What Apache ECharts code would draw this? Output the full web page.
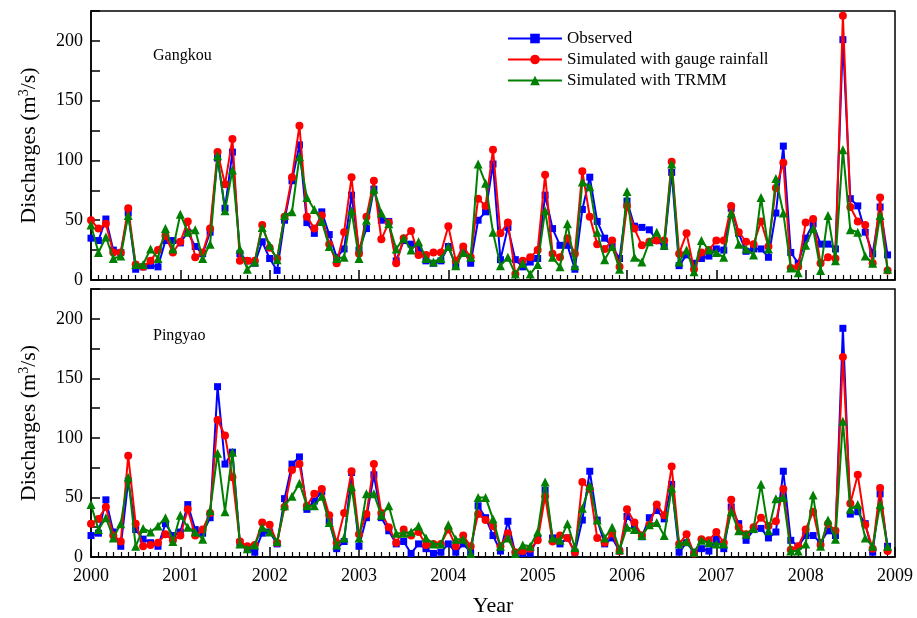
<!DOCTYPE html>
<html>
<head>
<meta charset="utf-8">
<script src="https://cdn.jsdelivr.net/npm/echarts@6/dist/echarts.min.js"></script>
<style>html,body{margin:0;padding:0;background:#fff}#c{width:917px;height:618px}</style>
</head>
<body>
<div id="c"></div>
<script>
const startYear = 2000;
const yearTicks = ['2000','2001','2002','2003','2004','2005','2006','2007','2008','2009'];
const seriesNames = ['Observed', 'Simulated with gauge rainfall', 'Simulated with TRMM'];
const stations = ['Gangkou', 'Pingyao'];

const gkObs = [35,33,51,25,23,56,9,11,12,11,33,33, 31,40,28,22,40,102,60,107,22,16,14,32,
  18,8,50,83,113,48,39,57,38,19,26,71, 25,43,76,50,49,16,33,30,26,16,14,16,
  28,12,25,14,50,57,97,17,44,17,11,15, 18,71,43,29,29,9,59,86,49,35,28,18,
  66,45,44,42,33,28,90,12,21,14,18,20, 26,25,60,39,24,26,26,19,56,112,23,14,
  35,47,30,30,26,201,68,62,40,22,61,21];
const gkGauge = [50,43,47,23,23,60,13,11,16,25,37,23, 32,49,19,23,43,107,80,118,16,16,16,46,
  27,18,53,86,129,53,43,54,30,14,40,86, 22,53,83,34,48,14,35,41,21,21,23,23,
  45,16,28,19,68,62,109,39,48,5,16,19, 25,88,22,19,35,22,91,53,30,26,33,11,
  62,43,29,32,33,33,99,22,39,9,23,25, 33,33,62,40,32,30,49,28,77,98,10,11,
  48,51,14,19,18,221,61,49,46,14,69,8];
const gkTrmm = [46,23,36,18,20,54,13,13,26,18,43,26, 55,40,42,18,30,104,58,92,26,9,15,44,
  29,17,54,57,103,69,59,49,28,18,19,58, 18,50,76,56,47,26,35,25,32,18,15,18,
  28,12,23,19,97,81,40,12,19,5,14,5, 13,58,19,11,47,12,82,78,40,17,28,9,
  74,19,15,32,40,29,97,15,25,7,33,25, 23,19,56,30,26,21,69,26,85,56,10,6,
  29,43,8,54,16,109,42,40,20,14,54,9];

const pyObs = [18,20,48,21,9,64,23,15,12,9,28,18, 21,44,23,20,33,143,78,88,12,7,4,20,
  21,11,49,78,84,40,47,55,30,7,13,71, 9,33,69,33,22,11,13,3,11,7,3,4,
  11,4,11,4,43,33,18,5,30,3,3,3, 16,56,16,11,16,4,31,72,31,11,16,5,
  34,27,17,33,39,32,61,4,12,4,7,5, 15,7,42,28,14,23,24,16,21,72,14,9,
  18,18,12,22,18,192,36,38,28,4,53,9];
const pyGauge = [28,32,42,18,13,85,28,9,10,12,19,14, 18,40,18,23,37,115,102,67,13,9,10,29,
  27,12,42,73,78,43,53,57,35,12,37,72, 19,36,78,37,25,12,23,18,21,10,11,11,
  23,9,18,9,36,31,26,9,20,4,5,7, 14,51,13,18,16,4,63,57,16,12,20,5,
  40,29,18,27,44,35,76,11,19,3,15,14, 21,12,48,25,19,25,33,26,30,57,6,9,
  23,38,10,28,22,168,45,69,27,7,58,5];
const pyTrmm = [44,23,33,16,28,67,9,24,21,26,33,13, 35,25,21,15,39,87,38,88,11,7,10,25,
  21,13,43,51,62,43,43,51,29,10,16,59, 16,53,53,35,43,20,20,21,26,16,11,11,
  27,15,15,3,50,50,32,9,16,3,10,9, 21,63,16,14,28,8,41,60,31,16,25,6,
  25,23,18,27,29,18,58,11,13,4,14,12, 11,11,38,22,19,24,61,22,49,50,5,5,
  11,52,9,31,15,114,40,44,16,9,44,9];

function pairs(arr){ return arr.map((v,i)=>[startYear + i/12, v]); }

const FONT = 'Liberation Serif';
const colors = ['#0000ff', '#ff0000', '#008000'];
const symbols = ['rect', 'circle', 'triangle'];
const sizes = [7, 8, 9];

const grids = [
  {left: 91, right: 22, top: 11, height: 269, show: true, borderColor: '#000', borderWidth: 1.5},
  {left: 91, right: 22, top: 289, height: 269, show: true, borderColor: '#000', borderWidth: 1.5}
];

function xAxis(idx, showLabels){
  return {
    type: 'value', gridIndex: idx, min: 2000, max: 2009, interval: 1,
    axisLine: {show: true, lineStyle: {color: '#000', width: 1.5}},
    axisTick: {show: true, inside: true, length: 10, lineStyle: {color: '#000', width: 1.5}},
    minorTick: {show: true, splitNumber: 12, length: 5, lineStyle: {color: '#000', width: 1.2}},
    splitLine: {show: false}, minorSplitLine: {show: false},
    axisLabel: {show: showLabels, fontFamily: FONT, fontSize: 18, color: '#000', margin: 10,
      formatter: v => yearTicks[Math.round(v - startYear)] || ''},
    name: showLabels ? 'Year' : '', nameLocation: 'middle', nameGap: 38,
    nameTextStyle: {fontFamily: FONT, fontSize: 22, color: '#000'}
  };
}
function yAxis(idx){
  return {
    type: 'value', gridIndex: idx, min: 0, max: 225, interval: 25,
    axisLine: {show: true, lineStyle: {color: '#000', width: 1.5}},
    axisTick: {show: true, inside: true, length: 9, lineStyle: {color: '#000', width: 1.5}},
    splitLine: {show: false},
    axisLabel: {fontFamily: FONT, fontSize: 18, color: '#000', margin: 8,
      formatter: v => (v % 50 === 0 ? String(v) : '')},
    name: '{a|Discharges (m}{s|3}{a|/s)}', nameLocation: 'middle', nameGap: 50, nameRotate: 90,
    nameTextStyle: {rich: {
      a: {fontFamily: FONT, fontSize: 22, color: '#000'},
      s: {fontFamily: FONT, fontSize: 14, color: '#000', verticalAlign: 'top', padding: [0,0,10,0]}
    }}
  };
}

const datasets = [[gkObs, gkGauge, gkTrmm], [pyObs, pyGauge, pyTrmm]];
const series = [];
datasets.forEach((set, g) => {
  set.forEach((arr, k) => {
    series.push({
      name: seriesNames[k], type: 'line', xAxisIndex: g, yAxisIndex: g,
      data: pairs(arr), symbol: symbols[k], symbolSize: sizes[k], showAllSymbol: true,
      lineStyle: {color: colors[k], width: 2}, itemStyle: {color: colors[k]},
      animation: false, z: 2 + k
    });
  });
});

const chart = echarts.init(document.getElementById('c'));
chart.setOption({
  animation: false,
  backgroundColor: '#fff',
  grid: grids,
  xAxis: [xAxis(0, false), xAxis(1, true)],
  yAxis: [yAxis(0), yAxis(1)],
  legend: {
    data: seriesNames, orient: 'vertical', left: 502, top: 25,
    itemWidth: 54, itemHeight: 12, itemGap: 4,
    textStyle: {fontFamily: FONT, fontSize: 17, color: '#000'}
  },
  graphic: [
    {type: 'text', left: 153, top: 48, style: {text: stations[0], font: '16px "Liberation Serif"', fill: '#000'}},
    {type: 'text', left: 153, top: 328, style: {text: stations[1], font: '16px "Liberation Serif"', fill: '#000'}}
  ],
  series: series
});
</script>
</body>
</html>
